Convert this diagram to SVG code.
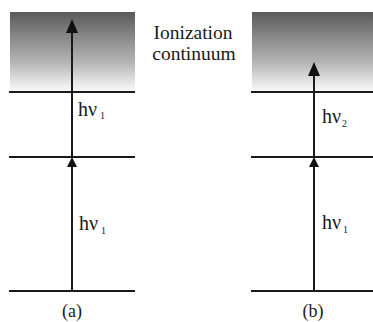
<svg xmlns="http://www.w3.org/2000/svg" width="373" height="322" viewBox="0 0 373 322">
<style>
.lvl{stroke:#1a1a1a;stroke-width:2.2;fill:none}
.arr{stroke:#1a1a1a;stroke-width:2;fill:none}
.t{font-family:"Liberation Serif","Times New Roman",serif;fill:#1a1a1a}
.lab{font-size:20px}
.sub{font-size:10px}
.cap{font-size:18px;text-anchor:middle}
.cont{font-size:19.5px;text-anchor:middle}
</style>
<defs>
<linearGradient id="g" x1="0" y1="0" x2="0" y2="1">
<stop offset="0" stop-color="#5a5a5a"/>
<stop offset="0.35" stop-color="#8e8e8e"/>
<stop offset="0.65" stop-color="#b8b8b8"/>
<stop offset="0.88" stop-color="#e6e6e6"/>
<stop offset="1" stop-color="#fafafa"/>
</linearGradient>
<marker id="big" viewBox="0 0 14 12" refX="10" refY="6" markerWidth="14" markerHeight="12" markerUnits="userSpaceOnUse" orient="auto">
<path d="M0,0 L14,6 L0,12 z" fill="#111"/>
</marker>
<marker id="small" viewBox="0 0 10 10" refX="6" refY="5" markerWidth="10" markerHeight="10" markerUnits="userSpaceOnUse" orient="auto">
<path d="M0,0 L10,5 L0,10 z" fill="#111"/>
</marker>
</defs>
<g id="continuum-a">
<rect x="10" y="12" width="125" height="80" fill="url(#g)"/>
<line class="lvl" x1="9" y1="92" x2="135" y2="92"/>
</g>
<g id="continuum-b">
<rect x="252" y="12" width="121" height="80" fill="url(#g)"/>
<line class="lvl" x1="251" y1="92" x2="373" y2="92"/>
</g>
<g id="level-mid-a"><line class="lvl" x1="9" y1="157" x2="135" y2="157"/></g>
<g id="level-mid-b"><line class="lvl" x1="251" y1="157" x2="373" y2="157"/></g>
<g id="level-ground-a"><line class="lvl" x1="9" y1="291" x2="135" y2="291"/></g>
<g id="level-ground-b"><line class="lvl" x1="251" y1="291" x2="373" y2="291"/></g>
<g id="continuum-label">
<text class="t cont" x="193" y="39">Ionization</text>
<text class="t cont" x="194" y="60">continuum</text>
</g>
<g id="connectors">
<line class="arr" x1="72" y1="291" x2="72" y2="161" marker-end="url(#small)"/>
<line class="arr" x1="72" y1="157" x2="72" y2="23" marker-end="url(#big)"/>
<line class="arr" x1="314" y1="291" x2="314" y2="161" marker-end="url(#small)"/>
<line class="arr" x1="314" y1="157" x2="314" y2="66" marker-end="url(#big)"/>
</g>
<g id="labels">
<text class="t lab" x="78" y="116">hν</text><text class="t sub" x="100" y="119">1</text>
<text class="t lab" x="79" y="230">hν</text><text class="t sub" x="101" y="234">1</text>
<text class="t lab" x="322" y="123">hν</text><text class="t sub" x="342" y="127">2</text>
<text class="t lab" x="322" y="229">hν</text><text class="t sub" x="343" y="233">1</text>
</g>
<g id="captions">
<text class="t cap" x="72" y="317">(a)</text>
<text class="t cap" x="313" y="317">(b)</text>
</g>
</svg>
